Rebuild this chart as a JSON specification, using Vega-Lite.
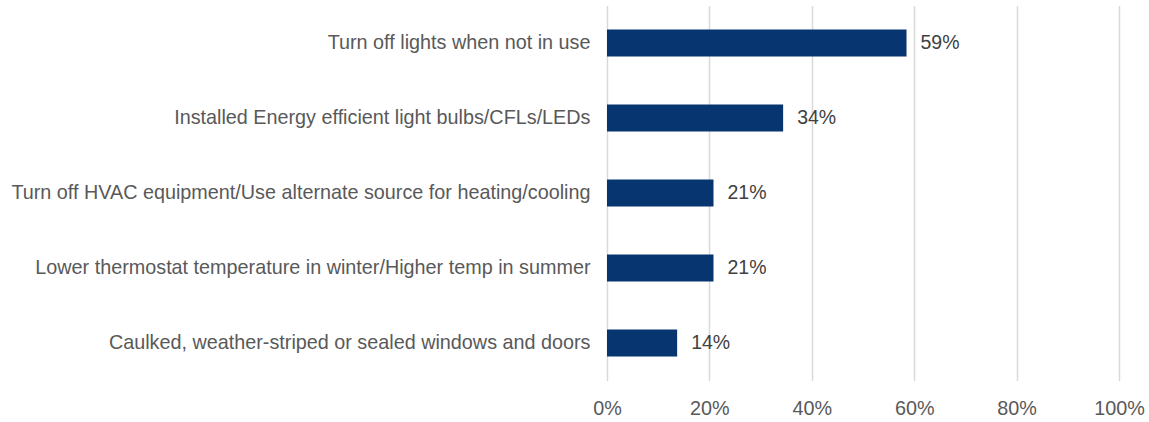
{
  "$schema": "https://vega.github.io/schema/vega-lite/v6.json",
  "autosize": {"type": "none"},
  "width": 512,
  "height": 375,
  "padding": {"left": 607, "top": 5.5, "right": 30, "bottom": 41.5},
  "background": "white",
  "config": {
    "view": {"stroke": null},
    "font": "Liberation Sans",
    "axis": {"labelFont": "Liberation Sans", "labelFontSize": 19.8, "labelColor": "#595959", "domain": false, "ticks": false}
  },
  "data": {
    "values": [
      {"action": "Turn off lights when not in use", "share": 0.585, "label": "59%"},
      {"action": "Installed Energy efficient light bulbs/CFLs/LEDs", "share": 0.344, "label": "34%"},
      {"action": "Turn off HVAC equipment/Use alternate source for heating/cooling", "share": 0.208, "label": "21%"},
      {"action": "Lower thermostat temperature in winter/Higher temp in summer", "share": 0.208, "label": "21%"},
      {"action": "Caulked, weather-striped or sealed windows and doors", "share": 0.137, "label": "14%"}
    ]
  },
  "encoding": {
    "y": {
      "field": "action", "type": "nominal", "sort": null, "title": null,
      "scale": {"paddingInner": 0.64, "paddingOuter": 0.32},
      "axis": {"labelPadding": 17, "labelLimit": 700, "grid": false}
    }
  },
  "layer": [
    {
      "mark": {"type": "bar", "color": "#063570"},
      "encoding": {
        "x": {
          "field": "share", "type": "quantitative", "title": null,
          "scale": {"domain": [0, 1], "nice": false},
          "axis": {"format": ".0%", "values": [0, 0.2, 0.4, 0.6, 0.8, 1], "grid": true, "gridColor": "#d9d9d9", "gridWidth": 1.5, "labelPadding": 18, "labelFlush": false}
        }
      }
    },
    {
      "mark": {"type": "text", "align": "left", "dx": 14, "fontSize": 19.5, "color": "#404040", "baseline": "middle"},
      "encoding": {
        "x": {"field": "share", "type": "quantitative"},
        "text": {"field": "label"}
      }
    }
  ]
}
